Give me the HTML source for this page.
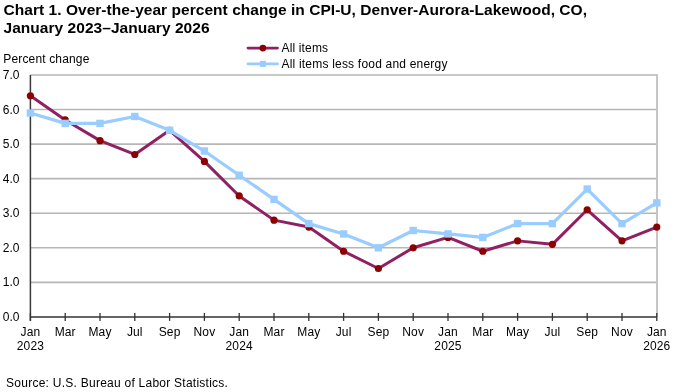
<!DOCTYPE html>
<html><head><meta charset="utf-8"><style>
html,body{margin:0;padding:0;background:#fff;width:680px;height:392px;overflow:hidden}
svg{display:block;will-change:transform}
.ax{font-family:"Liberation Sans",sans-serif;font-size:12px;fill:#000;letter-spacing:0.15px}
.ti{font-family:"Liberation Sans",sans-serif;font-size:15.5px;font-weight:bold;fill:#000;letter-spacing:0.04px}
</style></head><body>
<svg width="680" height="392" viewBox="0 0 680 392">
<line x1="30.4" y1="282.34" x2="657.0" y2="282.34" stroke="#b6b6b6" stroke-width="1.6"/>
<line x1="30.4" y1="247.79" x2="657.0" y2="247.79" stroke="#b6b6b6" stroke-width="1.6"/>
<line x1="30.4" y1="213.23" x2="657.0" y2="213.23" stroke="#b6b6b6" stroke-width="1.6"/>
<line x1="30.4" y1="178.67" x2="657.0" y2="178.67" stroke="#b6b6b6" stroke-width="1.6"/>
<line x1="30.4" y1="144.11" x2="657.0" y2="144.11" stroke="#b6b6b6" stroke-width="1.6"/>
<line x1="30.4" y1="109.56" x2="657.0" y2="109.56" stroke="#b6b6b6" stroke-width="1.6"/>
<line x1="30.4" y1="75.00" x2="657.0" y2="75.00" stroke="#b6b6b6" stroke-width="1.6"/>
<line x1="657.0" y1="74.2" x2="657.0" y2="316.9" stroke="#c0c0c0" stroke-width="1.8"/>
<line x1="30.4" y1="75.0" x2="30.4" y2="320.9" stroke="#383838" stroke-width="1.5"/>
<line x1="30.4" y1="316.9" x2="656.8" y2="316.9" stroke="#333" stroke-width="1.5"/>
<line x1="30.4" y1="312.9" x2="30.4" y2="320.9" stroke="#333" stroke-width="1.3"/>
<line x1="65.2" y1="312.9" x2="65.2" y2="320.9" stroke="#333" stroke-width="1.3"/>
<line x1="100.0" y1="312.9" x2="100.0" y2="320.9" stroke="#333" stroke-width="1.3"/>
<line x1="134.8" y1="312.9" x2="134.8" y2="320.9" stroke="#333" stroke-width="1.3"/>
<line x1="169.6" y1="312.9" x2="169.6" y2="320.9" stroke="#333" stroke-width="1.3"/>
<line x1="204.4" y1="312.9" x2="204.4" y2="320.9" stroke="#333" stroke-width="1.3"/>
<line x1="239.2" y1="312.9" x2="239.2" y2="320.9" stroke="#333" stroke-width="1.3"/>
<line x1="274.0" y1="312.9" x2="274.0" y2="320.9" stroke="#333" stroke-width="1.3"/>
<line x1="308.8" y1="312.9" x2="308.8" y2="320.9" stroke="#333" stroke-width="1.3"/>
<line x1="343.6" y1="312.9" x2="343.6" y2="320.9" stroke="#333" stroke-width="1.3"/>
<line x1="378.4" y1="312.9" x2="378.4" y2="320.9" stroke="#333" stroke-width="1.3"/>
<line x1="413.2" y1="312.9" x2="413.2" y2="320.9" stroke="#333" stroke-width="1.3"/>
<line x1="448.0" y1="312.9" x2="448.0" y2="320.9" stroke="#333" stroke-width="1.3"/>
<line x1="482.8" y1="312.9" x2="482.8" y2="320.9" stroke="#333" stroke-width="1.3"/>
<line x1="517.6" y1="312.9" x2="517.6" y2="320.9" stroke="#333" stroke-width="1.3"/>
<line x1="552.4" y1="312.9" x2="552.4" y2="320.9" stroke="#333" stroke-width="1.3"/>
<line x1="587.2" y1="312.9" x2="587.2" y2="320.9" stroke="#333" stroke-width="1.3"/>
<line x1="622.0" y1="312.9" x2="622.0" y2="320.9" stroke="#333" stroke-width="1.3"/>
<line x1="656.8" y1="312.9" x2="656.8" y2="320.9" stroke="#333" stroke-width="1.3"/>
<text x="19.4" y="320.9" text-anchor="end" class="ax" style="letter-spacing:0">0.0</text>
<text x="19.4" y="286.3" text-anchor="end" class="ax" style="letter-spacing:0">1.0</text>
<text x="19.4" y="251.8" text-anchor="end" class="ax" style="letter-spacing:0">2.0</text>
<text x="19.4" y="217.2" text-anchor="end" class="ax" style="letter-spacing:0">3.0</text>
<text x="19.4" y="182.7" text-anchor="end" class="ax" style="letter-spacing:0">4.0</text>
<text x="19.4" y="148.1" text-anchor="end" class="ax" style="letter-spacing:0">5.0</text>
<text x="19.4" y="113.6" text-anchor="end" class="ax" style="letter-spacing:0">6.0</text>
<text x="19.4" y="79.0" text-anchor="end" class="ax" style="letter-spacing:0">7.0</text>
<text x="30.4" y="335.9" text-anchor="middle" class="ax">Jan</text>
<text x="65.2" y="335.9" text-anchor="middle" class="ax">Mar</text>
<text x="100.0" y="335.9" text-anchor="middle" class="ax">May</text>
<text x="134.8" y="335.9" text-anchor="middle" class="ax">Jul</text>
<text x="169.6" y="335.9" text-anchor="middle" class="ax">Sep</text>
<text x="204.4" y="335.9" text-anchor="middle" class="ax">Nov</text>
<text x="239.2" y="335.9" text-anchor="middle" class="ax">Jan</text>
<text x="274.0" y="335.9" text-anchor="middle" class="ax">Mar</text>
<text x="308.8" y="335.9" text-anchor="middle" class="ax">May</text>
<text x="343.6" y="335.9" text-anchor="middle" class="ax">Jul</text>
<text x="378.4" y="335.9" text-anchor="middle" class="ax">Sep</text>
<text x="413.2" y="335.9" text-anchor="middle" class="ax">Nov</text>
<text x="448.0" y="335.9" text-anchor="middle" class="ax">Jan</text>
<text x="482.8" y="335.9" text-anchor="middle" class="ax">Mar</text>
<text x="517.6" y="335.9" text-anchor="middle" class="ax">May</text>
<text x="552.4" y="335.9" text-anchor="middle" class="ax">Jul</text>
<text x="587.2" y="335.9" text-anchor="middle" class="ax">Sep</text>
<text x="622.0" y="335.9" text-anchor="middle" class="ax">Nov</text>
<text x="656.8" y="335.9" text-anchor="middle" class="ax">Jan</text>
<text x="30.4" y="349.7" text-anchor="middle" class="ax">2023</text>
<text x="239.2" y="349.7" text-anchor="middle" class="ax">2024</text>
<text x="448.0" y="349.7" text-anchor="middle" class="ax">2025</text>
<text x="656.8" y="349.7" text-anchor="middle" class="ax">2026</text>
<polyline points="30.40,95.73 65.20,119.92 100.00,140.66 134.80,154.48 169.60,130.29 204.40,161.39 239.20,195.95 274.00,220.14 308.80,227.05 343.60,251.24 378.40,268.52 413.20,247.79 448.00,237.42 482.80,251.24 517.60,240.87 552.40,244.33 587.20,209.77 622.00,240.87 656.80,227.05" fill="none" stroke="#912063" stroke-width="3" stroke-linejoin="round"/>
<circle cx="30.40" cy="95.73" r="3.6" fill="#8b0000"/>
<circle cx="65.20" cy="119.92" r="3.6" fill="#8b0000"/>
<circle cx="100.00" cy="140.66" r="3.6" fill="#8b0000"/>
<circle cx="134.80" cy="154.48" r="3.6" fill="#8b0000"/>
<circle cx="169.60" cy="130.29" r="3.6" fill="#8b0000"/>
<circle cx="204.40" cy="161.39" r="3.6" fill="#8b0000"/>
<circle cx="239.20" cy="195.95" r="3.6" fill="#8b0000"/>
<circle cx="274.00" cy="220.14" r="3.6" fill="#8b0000"/>
<circle cx="308.80" cy="227.05" r="3.6" fill="#8b0000"/>
<circle cx="343.60" cy="251.24" r="3.6" fill="#8b0000"/>
<circle cx="378.40" cy="268.52" r="3.6" fill="#8b0000"/>
<circle cx="413.20" cy="247.79" r="3.6" fill="#8b0000"/>
<circle cx="448.00" cy="237.42" r="3.6" fill="#8b0000"/>
<circle cx="482.80" cy="251.24" r="3.6" fill="#8b0000"/>
<circle cx="517.60" cy="240.87" r="3.6" fill="#8b0000"/>
<circle cx="552.40" cy="244.33" r="3.6" fill="#8b0000"/>
<circle cx="587.20" cy="209.77" r="3.6" fill="#8b0000"/>
<circle cx="622.00" cy="240.87" r="3.6" fill="#8b0000"/>
<circle cx="656.80" cy="227.05" r="3.6" fill="#8b0000"/>
<polyline points="30.40,113.01 65.20,123.38 100.00,123.38 134.80,116.47 169.60,130.29 204.40,151.03 239.20,175.22 274.00,199.41 308.80,223.60 343.60,233.96 378.40,247.79 413.20,230.51 448.00,233.96 482.80,237.42 517.60,223.60 552.40,223.60 587.20,189.04 622.00,223.60 656.80,202.86" fill="none" stroke="#99ccff" stroke-width="3.2" stroke-linejoin="round"/>
<rect x="26.70" y="109.31" width="7.4" height="7.4" fill="#99ccff"/>
<rect x="61.50" y="119.68" width="7.4" height="7.4" fill="#99ccff"/>
<rect x="96.30" y="119.68" width="7.4" height="7.4" fill="#99ccff"/>
<rect x="131.10" y="112.77" width="7.4" height="7.4" fill="#99ccff"/>
<rect x="165.90" y="126.59" width="7.4" height="7.4" fill="#99ccff"/>
<rect x="200.70" y="147.33" width="7.4" height="7.4" fill="#99ccff"/>
<rect x="235.50" y="171.52" width="7.4" height="7.4" fill="#99ccff"/>
<rect x="270.30" y="195.71" width="7.4" height="7.4" fill="#99ccff"/>
<rect x="305.10" y="219.90" width="7.4" height="7.4" fill="#99ccff"/>
<rect x="339.90" y="230.26" width="7.4" height="7.4" fill="#99ccff"/>
<rect x="374.70" y="244.09" width="7.4" height="7.4" fill="#99ccff"/>
<rect x="409.50" y="226.81" width="7.4" height="7.4" fill="#99ccff"/>
<rect x="444.30" y="230.26" width="7.4" height="7.4" fill="#99ccff"/>
<rect x="479.10" y="233.72" width="7.4" height="7.4" fill="#99ccff"/>
<rect x="513.90" y="219.90" width="7.4" height="7.4" fill="#99ccff"/>
<rect x="548.70" y="219.90" width="7.4" height="7.4" fill="#99ccff"/>
<rect x="583.50" y="185.34" width="7.4" height="7.4" fill="#99ccff"/>
<rect x="618.30" y="219.90" width="7.4" height="7.4" fill="#99ccff"/>
<rect x="653.10" y="199.16" width="7.4" height="7.4" fill="#99ccff"/>
<line x1="248" y1="48.1" x2="277.5" y2="48.1" stroke="#912063" stroke-width="2.8" stroke-linecap="round"/>
<circle cx="262.9" cy="48.1" r="3.4" fill="#8b0000"/>
<text x="281.5" y="52" class="ax">All items</text>
<line x1="248" y1="63.9" x2="277.5" y2="63.9" stroke="#99ccff" stroke-width="2.9" stroke-linecap="round"/>
<rect x="259.9" y="60.9" width="6" height="6" fill="#99ccff"/>
<text x="281.5" y="67.5" class="ax" style="letter-spacing:0.2px">All items less food and energy</text>
<text x="3.3" y="62.5" class="ax">Percent change</text>
<text x="6.1" y="387.1" class="ax" style="letter-spacing:0.25px">Source: U.S. Bureau of Labor Statistics.</text>
<text x="3.5" y="15" class="ti">Chart 1. Over-the-year percent change in CPI-U, Denver-Aurora-Lakewood, CO,</text>
<text x="3.5" y="33" class="ti">January 2023–January 2026</text>
</svg></body></html>
